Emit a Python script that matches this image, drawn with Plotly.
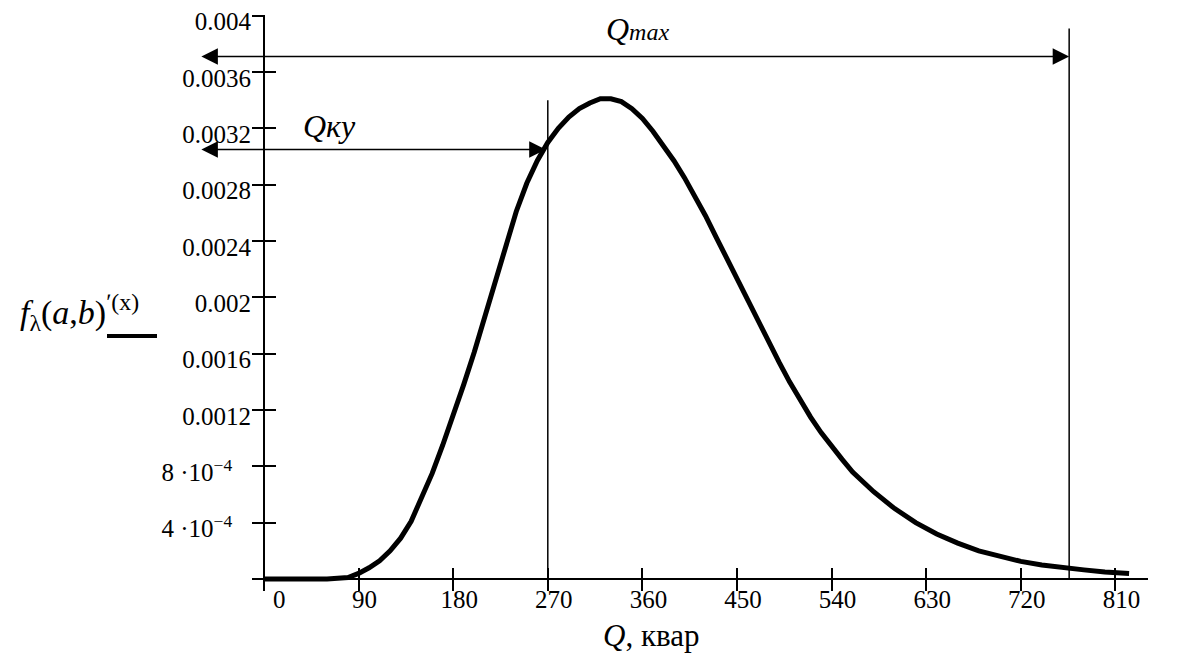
import plotly.graph_objects as go

# ---------------- data ----------------
Q_VALUES = [0, 20, 40, 60, 80, 90, 100, 110, 120, 130, 140, 150, 160, 170, 180, 190,
            200, 210, 220, 230, 240, 250, 260, 270, 280, 290, 300, 310, 320, 330, 340,
            350, 360, 370, 380, 390, 400, 410, 420, 430, 440, 450, 460, 470, 480, 490,
            500, 510, 520, 530, 540, 550, 560, 580, 600, 620, 640, 660, 680, 700, 720,
            740, 760, 780, 800, 823]
F_VALUES = [0, 0, 0, 0, 0.00001, 0.00004, 0.00008, 0.00013, 0.00020, 0.00029, 0.00041,
            0.00057, 0.00075, 0.00095, 0.00116, 0.00138, 0.00161, 0.00186, 0.00212,
            0.00238, 0.00261, 0.00281, 0.00297, 0.00310, 0.00320, 0.00328, 0.00334,
            0.00338, 0.00341, 0.00341, 0.00339, 0.00334, 0.00327, 0.00318, 0.00308,
            0.00297, 0.00285, 0.00272, 0.00258, 0.00243, 0.00228, 0.00213, 0.00198,
            0.00183, 0.00168, 0.00154, 0.00140, 0.00127, 0.00115, 0.00104, 0.00094,
            0.00085, 0.00076, 0.00062, 0.00050, 0.00040, 0.00032, 0.000255, 0.00020,
            0.00016, 0.000125, 0.00010, 0.00008, 0.000065, 0.00005, 0.00004]

NB = "\u00a0"
X_TICKS = [0, 90, 180, 270, 360, 450, 540, 630, 720, 810]
X_TICK_LABELS = [NB * 3 + "0", "90", "180", "270", "360", "450", "540", "630", "720", "810"]
Y_TICKS = [0, 0.0004, 0.0008, 0.0012, 0.0016, 0.002, 0.0024, 0.0028, 0.0032, 0.0036, 0.004]
SUP = "<sup>−4</sup>" + NB * 3
Y_TICK_LABELS = ["", "4 ·10" + SUP, "8 ·10" + SUP, "0.0012", "0.0016", "0.002",
                 "0.0024", "0.0028", "0.0032", "0.0036", "0.004"]

Q_KY = 270          # vertical marker Qку
Q_KY_TOP = 0.0034
Q_MAX = 766         # vertical marker Qmax
Q_MAX_TOP = 0.00391
ARROW_KY_Y = 0.00305
ARROW_MAX_Y = 0.00371
ARROW_LEFT = -61

# ---------------- layout geometry (window pixels) ----------------
WIN_W, WIN_H = 1179, 656
BODY = 8                      # default page margin around the plot div
W, H = WIN_W - 2 * BODY, WIN_H - BODY
PLOT_L, PLOT_R, PLOT_T, PLOT_B = 254, 1148, 15, 590   # plot area in window pixels
ML = PLOT_L - BODY
MT = PLOT_T - BODY
MR = (BODY + W) - PLOT_R
MB = (BODY + H) - PLOT_B
X_RANGE = [-9.5, 841]
Y_RANGE = [-0.000078, 0.004005]
PLOT_W = PLOT_R - PLOT_L
PLOT_H = PLOT_B - PLOT_T
PPX = PLOT_W / (X_RANGE[1] - X_RANGE[0])

x_axis_pos = (0 - Y_RANGE[0]) / (Y_RANGE[1] - Y_RANGE[0])
y_axis_pos = (0 - X_RANGE[0]) / (X_RANGE[1] - X_RANGE[0])


def paper_x(px):
    return (px - PLOT_L) / PLOT_W


def paper_y(py):
    return (PLOT_B - py) / PLOT_H


FONT = "Liberation Serif, Times New Roman, serif"

fig = go.Figure()
fig.add_trace(go.Scatter(x=Q_VALUES, y=F_VALUES, mode="lines",
                         line=dict(color="black", width=5), hoverinfo="skip",
                         showlegend=False))
# helper trace so the inside-tick overlay axes are drawn
fig.add_trace(go.Scatter(x=Q_VALUES, y=F_VALUES, mode="lines", xaxis="x2", yaxis="y2",
                         line=dict(color="rgba(0,0,0,0)", width=0), hoverinfo="skip",
                         showlegend=False))

common = dict(showgrid=False, zeroline=False, color="black", automargin=False)
fig.update_layout(
    width=W, height=H,
    margin=dict(l=ML, r=MR, t=MT, b=MB, pad=0),
    paper_bgcolor="white", plot_bgcolor="white",
    font=dict(family=FONT, size=25, color="black"),
    xaxis=dict(range=X_RANGE, tickvals=X_TICKS, ticktext=X_TICK_LABELS,
               anchor="free", position=x_axis_pos, showline=True, linewidth=2,
               linecolor="black", ticks="outside", ticklen=11, tickwidth=2,
               tickcolor="black", ticklabelshift=6, ticklabelstandoff=-13,
               ticklabeloverflow="allow", **common),
    yaxis=dict(range=Y_RANGE, tickvals=Y_TICKS, ticktext=Y_TICK_LABELS,
               anchor="free", position=y_axis_pos, showline=True, linewidth=2,
               linecolor="black", ticks="outside", ticklen=11, tickwidth=2,
               tickcolor="black", ticklabelshift=6, ticklabelstandoff=-4,
               ticklabeloverflow="allow", **common),
    xaxis2=dict(range=X_RANGE, tickvals=X_TICKS, overlaying="x", anchor="free",
                position=x_axis_pos, showline=False, ticks="inside", ticklen=11,
                tickwidth=2, tickcolor="black", showticklabels=False, **common),
    yaxis2=dict(range=Y_RANGE, tickvals=Y_TICKS, overlaying="y", anchor="free",
                position=y_axis_pos, showline=False, ticks="inside", ticklen=11,
                tickwidth=2, tickcolor="black", showticklabels=False, **common),
)

# vertical marker lines
for xv, top in [(Q_KY, Q_KY_TOP), (Q_MAX, Q_MAX_TOP)]:
    fig.add_shape(type="line", xref="x", yref="y", x0=xv, x1=xv, y0=0, y1=top,
                  line=dict(color="black", width=1.5))

# double-headed arrows
for xv, yv in [(Q_MAX, ARROW_MAX_Y), (Q_KY - 2, ARROW_KY_Y)]:
    fig.add_annotation(x=xv, y=yv, xref="x", yref="y",
                       ax=-(xv - ARROW_LEFT) * PPX, ay=0, axref="pixel", ayref="pixel",
                       text="", showarrow=True, arrowhead=2, startarrowhead=2,
                       arrowside="end+start", arrowsize=2.2, startarrowsize=2.2,
                       arrowwidth=1.5, arrowcolor="black", standoff=0, startstandoff=0)


# labels
def label(px, py, text, size=32):
    fig.add_annotation(x=paper_x(px), y=paper_y(py), xref="paper", yref="paper",
                       xanchor="center", yanchor="middle", text=text,
                       showarrow=False, font=dict(size=size, family=FONT))


label(637, 29, "<i>Q</i><span style='font-size:24px'><i>max</i></span>")
label(329, 126, "<i>Qку</i>")
label(651, 635, "<i>Q</i>, квар", size=31)
label(79, 313, "<i>f</i><sub>λ</sub>(<i>a</i>,<i>b</i>)<sup>ʹ(x)</sup>", size=34)
fig.add_shape(type="line", xref="paper", yref="paper",
              x0=paper_x(107), x1=paper_x(157), y0=paper_y(336), y1=paper_y(336),
              line=dict(color="black", width=4))

fig.write_html("out.html")
